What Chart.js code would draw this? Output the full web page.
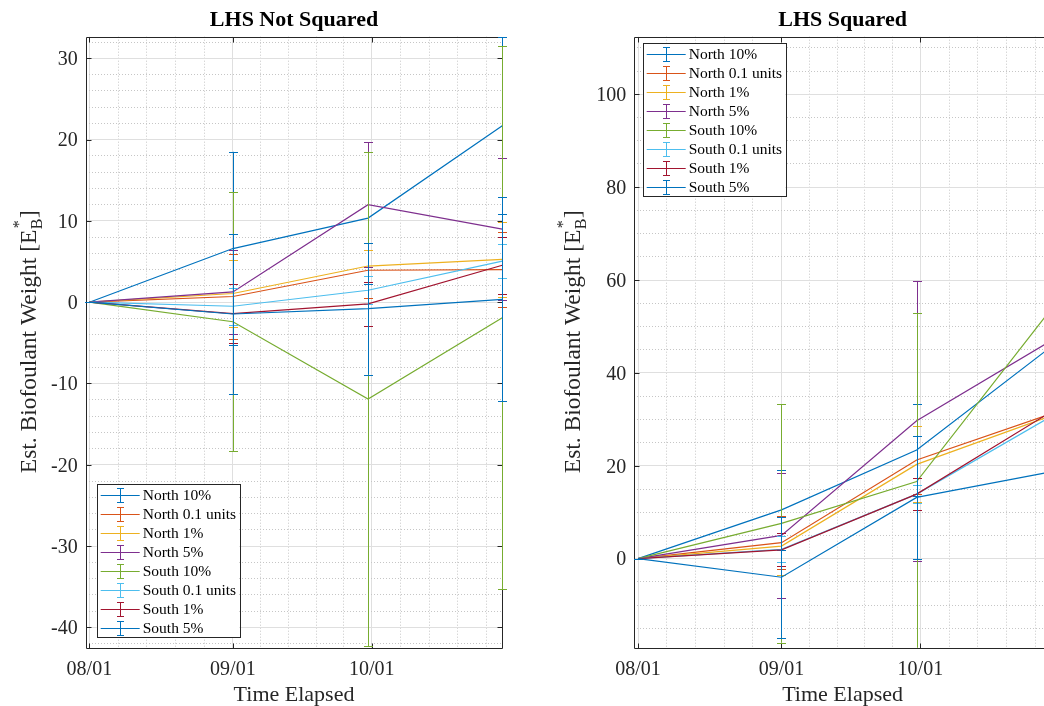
<!DOCTYPE html>
<html>
<head>
<meta charset="utf-8">
<title>Biofoulant weight</title>
<script src="https://cdn.jsdelivr.net/npm/chart.js@4.4.1/dist/chart.umd.min.js"></script>
<style>
  html, body { margin: 0; padding: 0; background: #fff; overflow: hidden; }
  body { width: 1044px; height: 706px; position: relative; }
  .pane { position: absolute; top: 0; height: 706px; }
  #pane-left { left: 0; width: 522px; }
  #pane-right { left: 522px; width: 540px; }
</style>
</head>
<body>
<div class="pane" id="pane-left"><canvas id="chart-left" width="522" height="706"></canvas></div>
<div class="pane" id="pane-right"><canvas id="chart-right" width="540" height="706"></canvas></div>
<script>
const FONT = "'Liberation Serif', 'Times New Roman', serif";
const AXIS_COLOR = '#262626';

const SERIES_NAMES = ['North 10%', 'North 0.1 units', 'North 1%', 'North 5%',
  'South 10%', 'South 0.1 units', 'South 1%', 'South 5%'];
const SERIES_COLORS = ['#0072BD', '#D95319', '#EDB120', '#7E2F8E',
  '#77AC30', '#4DBEEE', '#A2142F', '#0072BD'];

// sample times, in days since 08/01
const SAMPLE_DAYS = [0, 31, 60.2, 89.2];
const DATE_TICK_DAYS = [0, 31, 61];
const DATE_TICK_LABELS = ['08/01', '09/01', '10/01'];
const MONTH_LENGTHS = [31, 30, 31];

// LHS not squared
const notSquaredValues = [
  [0, 6.6, 10.35, 21.7],
  [0, 0.7, 3.93, 4.0],
  [0, 1.07, 4.45, 5.28],
  [0, 1.27, 12.0, 9.0],
  [0, -2.4, -11.9, -1.9],
  [0, -0.5, 1.47, 5.05],
  [0, -1.4, -0.2, 4.55],
  [0, -1.45, -0.8, 0.36]
];
const notSquaredErrors = [
  [0, 11.9, 8.15, 10.9],
  [0, 5.25, 3.4, 4.6],
  [0, 4.1, 1.95, 4.6],
  [0, 5.2, 7.7, 8.7],
  [0, 15.9, 30.4, 33.4],
  [0, 2.3, 1.7, 2.1],
  [0, 3.6, 2.7, 3.5],
  [0, 9.8, 8.1, 12.55]
];
const notSquaredYTicks = [-40, -30, -20, -10, 0, 10, 20, 30];

// LHS squared
const squaredValues = [
  [0, 10.5, 23.4, 45.6],
  [0, 3.45, 21.25, 31.2],
  [0, 2.7, 20.3, 30.75],
  [0, 5.0, 29.7, 46.9],
  [0, 7.6, 16.6, 53.7],
  [0, 2.0, 13.9, 30.6],
  [0, 1.9, 13.9, 31.6],
  [0, -4.0, 13.2, 18.7]
];
const squaredErrors = [
  [0, 8.7, 9.8, 14],
  [0, 5.75, 7.35, 9],
  [0, 6.25, 8.2, 9],
  [0, 13.4, 30.1, 30],
  [0, 25.7, 36.2, 40],
  [0, 2.8, 2.0, 4],
  [0, 3.55, 3.5, 5],
  [0, 13.05, 13.3, 15]
];
const squaredYTicks = [0, 20, 40, 60, 80, 100];

function crisp(v) {
  return Math.round(v) + 0.5;
}

// error bars drawn right after each series' line, like MATLAB errorbar
const errorBarPlugin = {
  id: 'errorBars',
  afterDatasetDraw(chart, args, opts) {
    const errs = opts.errors && opts.errors[args.index];
    if (!errs) return;
    const ds = chart.data.datasets[args.index];
    const { ctx, chartArea: a } = chart;
    const x = chart.scales.x, y = chart.scales.y;
    ctx.save();
    ctx.beginPath();
    ctx.rect(a.left - 12, a.top, a.right - a.left + 24, a.bottom - a.top);
    ctx.clip();
    ctx.strokeStyle = ds.borderColor;
    ctx.lineWidth = 1;
    ds.data.forEach((p, i) => {
      const px = crisp(x.getPixelForValue(p.x));
      const hi = y.getPixelForValue(p.y + errs[i]);
      const lo = y.getPixelForValue(p.y - errs[i]);
      ctx.beginPath();
      ctx.moveTo(px, hi);
      ctx.lineTo(px, lo);
      ctx.moveTo(px - 4.5, crisp(hi));
      ctx.lineTo(px + 4.5, crisp(hi));
      ctx.moveTo(px - 4.5, crisp(lo));
      ctx.lineTo(px + 4.5, crisp(lo));
      ctx.stroke();
    });
    ctx.restore();
  }
};

// box round the axes with inward major ticks
const axesBoxPlugin = {
  id: 'axesBox',
  beforeDatasetsDraw(chart) {
    const { ctx, chartArea: a } = chart;
    const L = crisp(a.left), R = crisp(a.right), T = crisp(a.top), B = crisp(a.bottom);
    ctx.save();
    ctx.strokeStyle = AXIS_COLOR;
    ctx.lineWidth = 1;
    ctx.beginPath();
    chart.scales.x.ticks.forEach(t => {
      if (!t.isMajor) return;
      const px = crisp(chart.scales.x.getPixelForValue(t.value));
      ctx.moveTo(px, B); ctx.lineTo(px, B - 5);
      ctx.moveTo(px, T); ctx.lineTo(px, T + 5);
    });
    chart.scales.y.ticks.forEach(t => {
      if (!t.isMajor) return;
      const py = crisp(chart.scales.y.getPixelForValue(t.value));
      ctx.moveTo(L, py); ctx.lineTo(L + 5, py);
      ctx.moveTo(R, py); ctx.lineTo(R - 5, py);
    });
    ctx.rect(L, T, R - L, B - T);
    ctx.stroke();
    ctx.restore();
  }
};

// legend box inside the axes
const boxLegendPlugin = {
  id: 'boxLegend',
  afterDraw(chart, args, opts) {
    const { ctx, chartArea: a } = chart;
    const items = chart.data.datasets;
    const rowH = 19, w = 142.5, h = 153;
    const left = a.left + opts.dx;
    const top = opts.fromTop ? a.top + opts.dy : a.bottom - opts.dy - h;
    ctx.save();
    ctx.fillStyle = '#fff';
    ctx.fillRect(left, top, w, h);
    ctx.strokeStyle = AXIS_COLOR;
    ctx.lineWidth = 1;
    ctx.strokeRect(crisp(left), crisp(top), Math.round(w), Math.round(h));
    ctx.font = '15.5px ' + FONT;
    ctx.textBaseline = 'middle';
    items.forEach((ds, i) => {
      const cy = Math.round(top + 10.8 + i * rowH) + 0.5;
      const gx = crisp(left + 23.5);
      ctx.strokeStyle = ds.borderColor;
      ctx.beginPath();
      ctx.moveTo(left + 4, cy); ctx.lineTo(left + 43, cy);
      ctx.moveTo(gx, cy - 7); ctx.lineTo(gx, cy + 7);
      ctx.moveTo(gx - 3.5, cy - 7); ctx.lineTo(gx + 3.5, cy - 7);
      ctx.moveTo(gx - 3.5, cy + 7); ctx.lineTo(gx + 3.5, cy + 7);
      ctx.stroke();
      ctx.fillStyle = '#000';
      ctx.fillText(ds.label, left + 46, cy + 0.5);
    });
    ctx.restore();
  }
};

// y label with stacked sub/superscript: E_B^*
const yLabelPlugin = {
  id: 'yLabel',
  afterDraw(chart, args, opts) {
    const { ctx, chartArea: a } = chart;
    const size = 23.5, small = 16;
    const main = 'Est. Biofoulant Weight [E';
    ctx.save();
    ctx.translate(a.left + opts.offset, (a.top + a.bottom) / 2);
    ctx.rotate(-Math.PI / 2);
    ctx.fillStyle = AXIS_COLOR;
    ctx.textBaseline = 'alphabetic';
    ctx.font = size + 'px ' + FONT;
    const wMain = ctx.measureText(main).width;
    const wEnd = ctx.measureText(']').width;
    ctx.font = small + 'px ' + FONT;
    const wSub = Math.max(ctx.measureText('B').width, ctx.measureText('*').width);
    const x0 = -(wMain + wSub + wEnd) / 2;
    ctx.font = size + 'px ' + FONT;
    ctx.fillText(main, x0, 0);
    ctx.fillText(']', x0 + wMain + wSub + 1, 0);
    ctx.font = small + 'px ' + FONT;
    ctx.fillText('B', x0 + wMain + 0.5, 5.5);
    ctx.fillText('*', x0 + wMain + 1.5, -12);
    ctx.restore();
  }
};

function dateTicks(scale) {
  const ticks = [];
  DATE_TICK_DAYS.forEach((d, m) => {
    ticks.push({ value: d, isMajor: true });
    for (let k = 1; k < 5; k++) {
      const v = d + k * MONTH_LENGTHS[m] / 5;
      if (v < scale.max) ticks.push({ value: v, isMajor: false });
    }
  });
  scale.ticks = ticks;
}

function valueTicks(majors, minorStep) {
  return function (scale) {
    const ticks = [];
    const start = Math.ceil(scale.min / minorStep) * minorStep;
    for (let v = start; v <= scale.max + 1e-9; v += minorStep) {
      const r = Math.round(v * 1000) / 1000;
      ticks.push({ value: r, isMajor: majors.indexOf(r) >= 0 });
    }
    scale.ticks = ticks;
  };
}

const gridStyle = {
  color: ctx => (ctx.tick && ctx.tick.isMajor) ? '#dfdfdf' : '#c6c6c6',
  lineWidth: 1,
  drawTicks: false
};
const gridBorder = {
  display: false,
  dash: ctx => (ctx.tick && ctx.tick.isMajor) ? [] : [1, 2]
};

function makeChart(canvasId, cfg) {
  const datasets = cfg.values.map((vals, i) => ({
    label: SERIES_NAMES[i],
    data: vals.map((v, j) => ({ x: SAMPLE_DAYS[j], y: v })),
    borderColor: SERIES_COLORS[i],
    backgroundColor: SERIES_COLORS[i],
    borderWidth: 1.2,
    pointRadius: 0,
    tension: 0,
    fill: false,
    order: SERIES_NAMES.length - i
  }));
  return new Chart(document.getElementById(canvasId), {
    type: 'line',
    data: { datasets },
    plugins: [axesBoxPlugin, errorBarPlugin, boxLegendPlugin, yLabelPlugin],
    options: {
      responsive: false,
      animation: false,
      devicePixelRatio: 1,
      layout: { padding: { left: 0, right: cfg.padRight, top: 0, bottom: 0 } },
      plugins: {
        legend: { display: false },
        tooltip: { enabled: false },
        title: {
          display: true,
          text: cfg.title,
          fullSize: false,
          color: '#000',
          font: { family: FONT, size: 22, weight: 'bold', lineHeight: 1.2 },
          padding: { top: 7, bottom: 3.3 }
        },
        errorBars: { errors: cfg.errors },
        boxLegend: cfg.legend,
        yLabel: { offset: cfg.yLabelOffset }
      },
      scales: {
        x: {
          type: 'linear',
          min: -0.8,
          max: 89.2,
          bounds: 'data',
          afterBuildTicks: dateTicks,
          afterFit: s => { s.height = 58.3; },
          grid: gridStyle,
          border: gridBorder,
          ticks: {
            autoSkip: false,
            maxRotation: 0,
            padding: 10,
            color: AXIS_COLOR,
            font: { family: FONT, size: 20 },
            callback: (value, index, ticks) => {
              const k = DATE_TICK_DAYS.indexOf(value);
              return ticks[index].isMajor && k >= 0 ? DATE_TICK_LABELS[k] : '';
            }
          },
          title: {
            display: true,
            text: 'Time Elapsed',
            color: AXIS_COLOR,
            font: { family: FONT, size: 22, lineHeight: 1.0 },
            padding: { top: 0, bottom: 0 }
          }
        },
        y: {
          type: 'linear',
          min: cfg.yMin,
          max: cfg.yMax,
          bounds: 'data',
          afterBuildTicks: valueTicks(cfg.yTicks, cfg.minorStep),
          afterFit: s => { s.width = cfg.yWidth; },
          grid: gridStyle,
          border: gridBorder,
          ticks: {
            autoSkip: false,
            padding: 8,
            labelOffset: 1.5,
            color: AXIS_COLOR,
            font: { family: FONT, size: 20 },
            callback: (value, index, ticks) => ticks[index].isMajor ? String(value) : ''
          }
        }
      }
    }
  });
}

makeChart('chart-left', {
  title: 'LHS Not Squared',
  values: notSquaredValues,
  errors: notSquaredErrors,
  yTicks: notSquaredYTicks,
  minorStep: 2,
  yMin: -42.5,
  yMax: 32.66,
  yWidth: 85.7,
  padRight: 19.7,
  yLabelOffset: -49.7,
  legend: { dx: 11, dy: 10.4, fromTop: false }
});

makeChart('chart-right', {
  title: 'LHS Squared',
  values: squaredValues,
  errors: squaredErrors,
  yTicks: squaredYTicks,
  minorStep: 5,
  yMin: -19.17,
  yMax: 112.4,
  yWidth: 112.3,
  padRight: 11.1,
  yLabelOffset: -54.3,
  legend: { dx: 8.4, dy: 6.6, fromTop: true }
});
</script>
</body>
</html>
